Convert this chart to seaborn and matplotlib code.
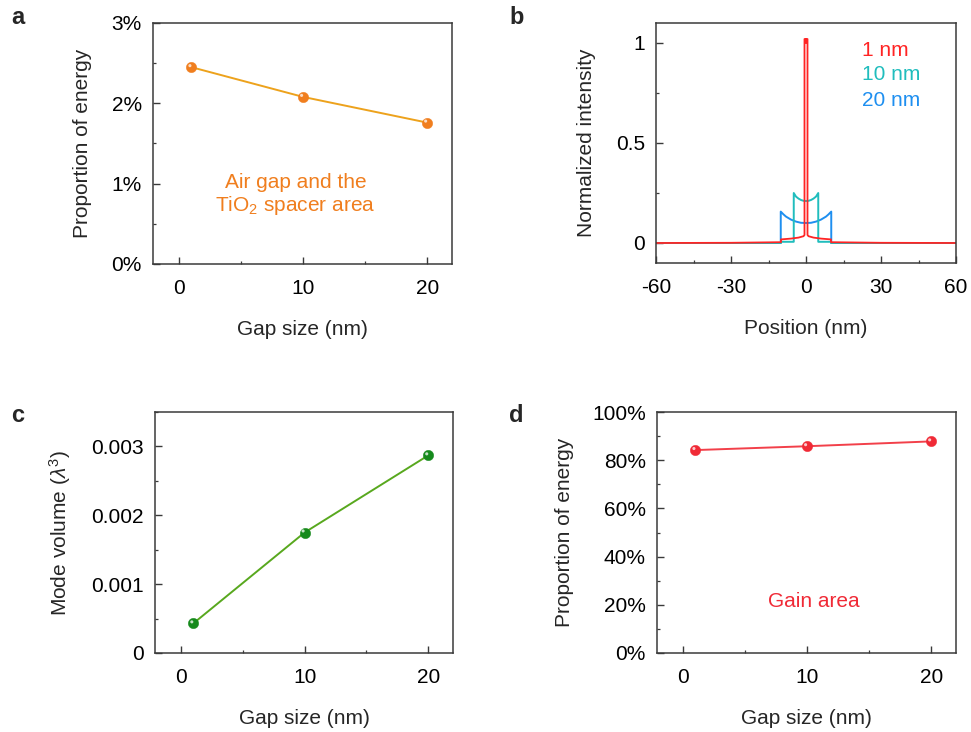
import numpy as np
import pandas as pd
import seaborn as sns
import matplotlib
matplotlib.use("Agg")
import matplotlib.pyplot as plt
from matplotlib.transforms import offset_copy

# ---- data -------------------------------------------------------------
gap_nm = [1, 10, 20]
spacer_energy_pct = [2.45, 2.08, 1.76]        # air gap + TiO2 spacer
mode_volume = [0.00043, 0.00175, 0.00287]     # lambda^3
gain_energy_pct = [84.2, 85.8, 87.8]          # gain area

# normalized intensity profiles across the gap
pos_1nm = [-60, -30, -10, -10, -6, -3, -1, -0.6, -0.6, -0.15, 0, 0.15, 0.6, 0.6, 1, 3, 6, 10, 10, 30, 60]
int_1nm = [0, 0.001, 0.004, 0.018, 0.022, 0.027, 0.034, 0.04, 1.02, 1.02, 1.0, 1.02, 1.02, 0.04, 0.034, 0.027, 0.022, 0.018, 0.004, 0.001, 0]

pos_10nm = [-60, -10, -10, -4.9, -4.9, -4, -3, -2, -1, 0, 1, 2, 3, 4, 4.9, 4.9, 10, 10, 60]
int_10nm = [0, 0, 0.006, 0.006, 0.25, 0.232, 0.222, 0.215, 0.211, 0.21, 0.211, 0.215, 0.222, 0.232, 0.25, 0.006, 0.006, 0, 0]

pos_20nm = [-60, -10.1, -10.1, -9, -8, -6, -4, -2, 0, 2, 4, 6, 8, 9, 10.1, 10.1, 60]
int_20nm = [0, 0, 0.157, 0.143, 0.132, 0.117, 0.107, 0.101, 0.1, 0.101, 0.107, 0.117, 0.132, 0.143, 0.157, 0, 0]

gap_ticks = [0, 10, 20]
pct3_ticks = [0, 1, 2, 3]
pct3_labels = ["0%", "1%", "2%", "3%"]
pos_ticks = [-60, -30, 0, 30, 60]
pos_labels = ["-60", "-30", "0", "30", "60"]
norm_ticks = [0, 0.5, 1]
norm_labels = ["0", "0.5", "1"]
vol_ticks = [0, 0.001, 0.002, 0.003]
vol_labels = ["0", "0.001", "0.002", "0.003"]
pct100_ticks = [0, 20, 40, 60, 80, 100]
pct100_labels = ["0%", "20%", "40%", "60%", "80%", "100%"]

# ---- style ------------------------------------------------------------
sns.set_style("ticks")
plt.rcParams.update({
    "font.family": ["Liberation Sans", "DejaVu Sans"],
    "font.size": 15,
    "mathtext.fontset": "custom",
    "mathtext.rm": "Liberation Sans",
    "mathtext.it": "Liberation Sans:italic",
    "axes.edgecolor": "#3a3a3a",
    "axes.linewidth": 1.1,
})

fig = plt.figure(figsize=(9.71, 7.32), dpi=100)
W, H = 971, 732


def add_ax(x0, y0, x1, y1):
    return fig.add_axes([x0 / W, 1 - y1 / H, (x1 - x0) / W, (y1 - y0) / H])


def style_ax(ax, minor_x, minor_y):
    ax.tick_params(which="both", direction="in", top=False, right=False,
                   color="#3a3a3a", labelsize=15, labelcolor="black")
    ax.tick_params(axis="x", which="major", length=5, width=1.0, pad=11)
    ax.tick_params(axis="y", which="major", length=5, width=1.0, pad=8)
    ax.tick_params(which="minor", length=2.5, width=0.9)
    ax.xaxis.set_minor_locator(matplotlib.ticker.MultipleLocator(minor_x))
    ax.yaxis.set_minor_locator(matplotlib.ticker.MultipleLocator(minor_y))
    for s in ax.spines.values():
        s.set_visible(True)


def balls(ax, x, y, color):
    sns.scatterplot(x=x, y=y, ax=ax, s=56, color=color, edgecolor=color,
                    linewidth=0.3, zorder=4, legend=False)
    shine = offset_copy(ax.transData, fig=fig, x=-1.1, y=1.1, units="points")
    ax.scatter(x, y, s=5, color="white", alpha=0.75, edgecolor="none",
               transform=shine, zorder=5)


# panel a
ax_a = add_ax(153, 23, 452, 264)
sns.lineplot(x=gap_nm, y=spacer_energy_pct, ax=ax_a, color="#EDA21C", lw=1.4)
balls(ax_a, gap_nm, spacer_energy_pct, "#F07E1E")
ax_a.set_xlim(-2.1, 22)
ax_a.set_ylim(0, 3)
ax_a.set_xticks(gap_ticks)
ax_a.set_yticks(pct3_ticks, pct3_labels)
style_ax(ax_a, 5, 0.5)
ax_a.set_xlabel("Gap size (nm)", labelpad=16)
ax_a.set_ylabel("Proportion of energy", labelpad=14)
ax_a.text(9.4, 0.86, "Air gap and the\nTiO$_2$ spacer area", color="#F07E1E",
          ha="center", va="center", multialignment="center", fontsize=15,
          linespacing=1.15)

# panel b
ax_b = add_ax(656, 23, 956, 263)
sns.lineplot(x=pos_20nm, y=int_20nm, ax=ax_b, color="#1E8FF0", lw=1.4,
             sort=False, estimator=None)
sns.lineplot(x=pos_10nm, y=int_10nm, ax=ax_b, color="#20BDBD", lw=1.4,
             sort=False, estimator=None)
sns.lineplot(x=pos_1nm, y=int_1nm, ax=ax_b, color="#FF2424", lw=1.3,
             sort=False, estimator=None)
ax_b.set_xlim(-60, 60)
ax_b.set_ylim(-0.1, 1.1)
ax_b.set_xticks(pos_ticks, pos_labels)
ax_b.set_yticks(norm_ticks, norm_labels)
style_ax(ax_b, 15, 0.25)
ax_b.set_xlabel("Position (nm)", labelpad=16)
ax_b.set_ylabel("Normalized intensity", labelpad=14)
for lbl, col, yy in [("1 nm", "#FF2424", 0.965), ("10 nm", "#20BDBD", 0.84),
                     ("20 nm", "#1E8FF0", 0.715)]:
    ax_b.text(22.5, yy, lbl, color=col, fontsize=15, ha="left", va="center")

# panel c
ax_c = add_ax(155, 412, 453, 653)
sns.lineplot(x=gap_nm, y=mode_volume, ax=ax_c, color="#58A81E", lw=1.4)
balls(ax_c, gap_nm, mode_volume, "#168A1C")
ax_c.set_xlim(-2.1, 22)
ax_c.set_ylim(0, 0.0035)
ax_c.set_xticks(gap_ticks)
ax_c.set_yticks(vol_ticks, vol_labels)
style_ax(ax_c, 5, 0.0005)
ax_c.set_xlabel("Gap size (nm)", labelpad=16)
ax_c.set_ylabel(r"Mode volume ($\lambda^3$)", labelpad=13)

# panel d
ax_d = add_ax(657, 412, 956, 653)
sns.lineplot(x=gap_nm, y=gain_energy_pct, ax=ax_d, color="#F2404A", lw=1.4)
balls(ax_d, gap_nm, gain_energy_pct, "#F02A36")
ax_d.set_xlim(-2.1, 22)
ax_d.set_ylim(0, 100)
ax_d.set_xticks(gap_ticks)
ax_d.set_yticks(pct100_ticks, pct100_labels)
style_ax(ax_d, 5, 10)
ax_d.set_xlabel("Gap size (nm)", labelpad=16)
ax_d.set_ylabel("Proportion of energy", labelpad=13)
ax_d.text(10.5, 21.5, "Gain area", color="#F02A36", ha="center", va="center",
          fontsize=15)

# panel letters
for letter, px, py in [("a", 11, 17), ("b", 509, 17), ("c", 11, 416), ("d", 509, 416)]:
    fig.text(px / W, 1 - py / H, letter, fontsize=17, fontweight="bold",
             ha="left", va="center")

fig.savefig("out.png", dpi=100)
